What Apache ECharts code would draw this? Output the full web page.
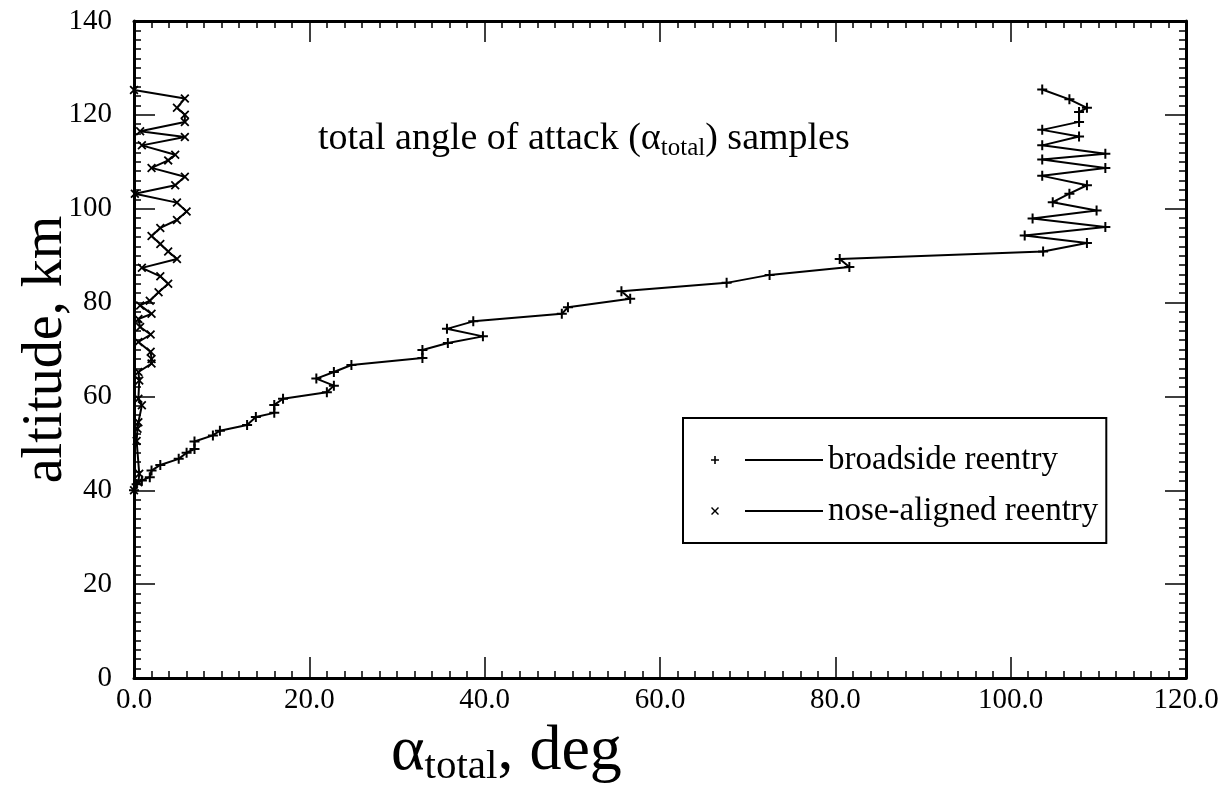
<!DOCTYPE html>
<html>
<head>
<meta charset="utf-8">
<script src="https://cdn.jsdelivr.net/npm/echarts@6/dist/echarts.min.js"></script>
<style>
    html, body { margin: 0; padding: 0; background: #fff; }
    #chart { width: 1227px; height: 796px; }
</style>
</head>
<body>
<div id="chart"></div>
<script>
// broadside reentry samples, top (start) to bottom
var broadsideDeg = [103.6, 106.7, 108.7, 107.8, 107.8, 103.6, 107.8, 103.6, 110.8, 103.6, 110.8, 103.6, 108.7, 106.7, 104.8, 109.8, 102.5, 110.8, 101.6, 108.7, 103.7,
    80.5, 81.6, 72.5, 67.6, 55.6, 56.6, 49.5, 48.8, 38.7, 35.7, 39.8, 35.8, 32.9, 32.9, 24.8, 22.8, 20.8, 22.8, 22.0, 17.0, 16.0, 16.0, 13.9, 12.9,
    9.8, 9.0, 6.9, 6.9, 6.0, 5.1, 3.0, 2.0, 1.8, 0.9, 0.3, 0, 0];
var broadsideAlt = [125.4, 123.3, 121.5, 120.6, 118.5, 116.8, 115.4, 113.5, 111.7, 110.5, 108.7, 107.0, 105.0, 103.2, 101.4, 99.6, 97.9, 96.1, 94.3, 92.7, 90.9,
    89.3, 87.6, 85.9, 84.2, 82.4, 80.8, 79.0, 77.6, 76.0, 74.4, 72.8, 71.4, 69.9, 68.2, 66.7, 65.2, 63.8, 62.3, 60.9, 59.5, 58.2, 56.5, 55.6, 53.9,
    52.7, 51.7, 50.4, 48.8, 48.0, 46.7, 45.4, 44.2, 42.8, 42.1, 41.3, 40, 0];

// nose-aligned reentry samples
var noseDeg = [0, 5.8, 4.9, 5.8, 5.8, 0.7, 5.8, 0.9, 4.7, 3.9, 2.0, 5.8, 4.7, 0.1, 4.9, 6.0, 4.9, 3.0, 2.0, 3.0, 3.9, 4.9,
    0.9, 3.0, 3.9, 2.8, 1.8, 0.7, 2.0, 0.5, 0.7, 1.9, 0.5, 1.9, 2.0, 2.0, 0.5, 0.6, 0.5, 0.9, 0.5, 0.4, 0.3, 0.6, 0.5, 0, 0];
var noseAlt = [125.3, 123.5, 121.5, 120.0, 118.5, 116.5, 115.3, 113.5, 111.5, 110.3, 108.7, 106.8, 105.0, 103.2, 101.3, 99.4, 97.6, 95.9, 94.2, 92.5, 90.9, 89.3,
    87.4, 85.6, 84.0, 82.2, 80.4, 79.4, 77.6, 76.5, 74.8, 73.2, 71.6, 69.5, 68.0, 67.0, 65.2, 63.4, 59.5, 58.1, 54.5, 53.1, 50.5, 43.5, 41.7, 40, 0];

var xTicks = [0, 20, 40, 60, 80, 100, 120];
var yTicks = [0, 20, 40, 60, 80, 100, 120, 140];

var serif = 'Liberation Serif';
var plusSymbol = 'path://M4,0h2v4h4v2h-4v4h-2v-4h-4v-2h4z';
var crossSymbol = 'path://M0,1.4L1.4,0L5,3.6L8.6,0L10,1.4L6.4,5L10,8.6L8.6,10L5,6.4L1.4,10L0,8.6L3.6,5Z';

// last sample sits on the axis corner, no marker drawn there
function pairs(xs, ys) {
    return xs.map(function (x, i) {
        if (i === xs.length - 1) return { value: [x, ys[i]], symbol: 'none' };
        return [x, ys[i]];
    });
}

function axis(kind, position, showLabel) {
    var ticks = kind === 'x' ? xTicks : yTicks;
    return {
        type: 'value',
        position: position,
        min: ticks[0],
        max: ticks[ticks.length - 1],
        interval: ticks[1] - ticks[0],
        axisLine: { onZero: false, lineStyle: { color: '#000', width: 3 } },
        axisTick: { inside: true, length: 21, lineStyle: { color: '#000', width: 1.5 } },
        minorTick: { show: true, splitNumber: 10, length: 7, lineStyle: { color: '#000', width: 1.5 } },
        splitLine: { show: false },
        axisLabel: {
            show: showLabel,
            fontFamily: serif,
            fontSize: 29,
            color: '#000',
            margin: kind === 'x' ? 8 : 22,
            formatter: function (v) { return kind === 'x' ? v.toFixed(1) : String(v); }
        }
    };
}

var chart = echarts.init(document.getElementById('chart'));

var yLeft = axis('y', 'left', true);
yLeft.name = 'altitude, km';
yLeft.nameLocation = 'middle';
yLeft.nameGap = 60;
yLeft.nameMoveOverlap = false;
yLeft.nameTextStyle = { fontFamily: serif, fontSize: 56, color: '#000' };

chart.setOption({
    animation: false,
    backgroundColor: '#fff',
    title: [
        {
            text: 'total angle of attack ({a|α}{s|total}) samples',
            left: 313,
            top: 113,
            textStyle: {
                fontFamily: serif, fontSize: 38, fontWeight: 'normal', color: '#000',
                rich: {
                    a: { fontFamily: serif, fontSize: 38, fontWeight: 'normal', color: '#000' },
                    s: { fontFamily: serif, fontSize: 25, fontWeight: 'normal', color: '#000', padding: [18, 0, 0, 0] }
                }
            }
        },
        {
            text: '{a|α}{s|total}{a|, deg}',
            left: 386,
            top: 712,
            textStyle: {
                fontWeight: 'normal',
                rich: {
                    a: { fontFamily: serif, fontSize: 64, fontWeight: 'normal', color: '#000' },
                    s: { fontFamily: serif, fontSize: 41, fontWeight: 'normal', color: '#000', padding: [30, 0, 0, 0] }
                }
            }
        }
    ],
    grid: { left: 134, right: 41, top: 21, bottom: 118, outerBoundsMode: 'none' },
    xAxis: [axis('x', 'bottom', true), axis('x', 'top', false)],
    yAxis: [yLeft, axis('y', 'right', false)],
    legend: {
        orient: 'vertical',
        left: 683,
        top: 418,
        padding: [23, 8, 13, 28],
        itemGap: 13,
        itemWidth: 112,
        itemHeight: 8,
        borderColor: '#000',
        borderWidth: 2,
        itemStyle: { borderWidth: 0 },
        textStyle: { fontFamily: serif, fontSize: 33, color: '#000', lineHeight: 38 },
        data: [
            { name: 'broadside reentry', icon: 'path://M0,3.2h8v1.6h-8z M3.2,0h1.6v8h-1.6z M34,3h78v2h-78z' },
            { name: 'nose-aligned reentry', icon: 'path://M0,1L1,0L4,3L7,0L8,1L5,4L8,7L7,8L4,5L1,8L0,7L3,4Z M34,3h78v2h-78z' }
        ]
    },
    series: [
        {
            name: 'broadside reentry',
            type: 'line',
            data: pairs(broadsideDeg, broadsideAlt),
            symbol: plusSymbol,
            symbolSize: 10,
            lineStyle: { color: '#000', width: 2 },
            itemStyle: { color: '#000', borderWidth: 0 }
        },
        {
            name: 'nose-aligned reentry',
            type: 'line',
            data: pairs(noseDeg, noseAlt),
            symbol: crossSymbol,
            symbolSize: 9,
            lineStyle: { color: '#000', width: 2 },
            itemStyle: { color: '#000', borderWidth: 0 }
        }
    ]
});
</script>
</body>
</html>
